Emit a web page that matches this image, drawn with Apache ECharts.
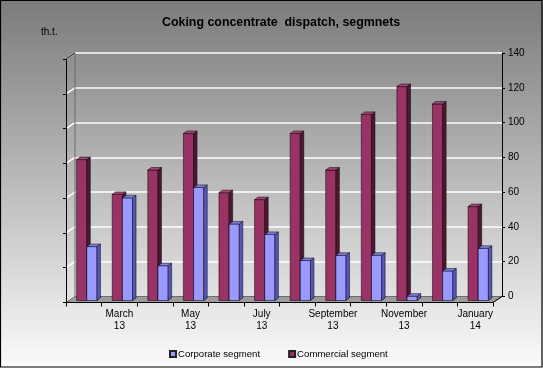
<!DOCTYPE html>
<html><head><meta charset="utf-8">
<script src="https://cdn.jsdelivr.net/npm/echarts@6/dist/echarts.min.js"></script>
<style>html,body{margin:0;padding:0;}#c{width:543px;height:368px;}</style>
</head><body><div id="c"></div>
<script>
const categories = ['February\n13','March\n13','April\n13','May\n13','June\n13','July\n13','August\n13','September\n13','October\n13','November\n13','December\n13','January\n14'];
const commercial = [81, 61, 75, 96, 62, 58, 96, 75, 107, 123, 113, 54];
const corporate = [31, 59, 20, 65, 44, 38, 23, 26, 26, 2.5, 17, 30];
const yTicks = [0, 20, 40, 60, 80, 100, 120, 140];

const FONT = 'Liberation Sans, Arial, sans-serif';
const DX = 3.5, DY = -2.5;

function barRenderer(slot, front, side, topc) {
  return function (params, api) {
    const i = api.value(0), v = api.value(1);
    const b = api.coord([i, 0]);
    const t = api.coord([i, v]);
    const cw = api.size([1, 0])[0];
    const bw = cw / 3.5;
    const x0 = b[0] - bw + slot * bw;
    const x1 = x0 + bw;
    const s = {stroke: '#000', lineWidth: 0.5};
    return {type: 'group', children: [
      {type: 'rect', shape: {x: x0, y: t[1], width: bw, height: b[1] - t[1]}, style: Object.assign({fill: front}, s)},
      {type: 'polygon', shape: {points: [[x1, t[1]], [x1 + DX, t[1] + DY], [x1 + DX, b[1] + DY], [x1, b[1]]]}, style: Object.assign({fill: side}, s)},
      {type: 'polygon', shape: {points: [[x0, t[1]], [x0 + DX, t[1] + DY], [x1 + DX, t[1] + DY], [x1, t[1]]]}, style: Object.assign({fill: topc}, s)}
    ]};
  };
}

const chart = echarts.init(document.getElementById('c'));
const option = {
  animation: false,
  backgroundColor: new echarts.graphic.LinearGradient(0, 0, 0, 1, [
    {offset: 0, color: '#7b7b7b'}, {offset: 1, color: '#fbfbfb'}
  ]),
  textStyle: {fontFamily: FONT},
  title: [
    {text: 'Coking concentrate  dispatch, segmnets', left: 157, top: 12,
     textStyle: {fontSize: 12.4, fontWeight: 'bold', color: '#000', fontFamily: FONT}},
    {text: 'th.t.', left: 36, top: 22, textStyle: {fontSize: 10, fontWeight: 'normal', color: '#000', fontFamily: FONT}}
  ],
  legend: {
    data: ['Corporate segment', 'Commercial segment'],
    left: 164, top: 344, icon: 'rect', itemWidth: 6, itemHeight: 6, itemGap: 28,
    textStyle: {fontSize: 9.6, color: '#000', fontFamily: FONT, padding: [0, 0, 0, -3]}
  },
  grid: [
    {left: 75, right: 41, top: 53, bottom: 71.5},
    {left: 66, right: 50, top: 59, bottom: 65.5},
    {left: 69, right: 47, top: 57, bottom: 67.5}
  ],
  xAxis: [
    {type: 'category', gridIndex: 0, data: categories, show: false},
    {type: 'category', gridIndex: 1, data: categories, boundaryGap: true,
     axisLine: {lineStyle: {color: '#000', width: 1}}, z: 4,
     axisTick: {show: true, length: 4, interval: 0, lineStyle: {color: '#000'}},
     axisLabel: {interval: function (idx) { return idx % 2 === 1; }, fontSize: 10, color: '#000', lineHeight: 12, margin: 6, fontFamily: FONT}},
    {type: 'category', gridIndex: 2, data: categories, show: false}
  ],
  yAxis: [
    {type: 'value', gridIndex: 0, position: 'right', min: 0, max: 140, interval: 20,
     axisLine: {show: true, lineStyle: {color: '#000'}},
     axisTick: {show: true, length: 3, lineStyle: {color: '#000'}},
     axisLabel: {fontSize: 10, color: '#000', margin: 6, fontFamily: FONT},
     splitLine: {show: true, lineStyle: {color: '#ffffff', width: 1.5}}},
    {type: 'value', gridIndex: 1, min: 0, max: 140, interval: 20, z: 4,
     axisLine: {show: true, lineStyle: {color: '#000'}},
     axisTick: {show: true, length: 3, lineStyle: {color: '#000'}},
     axisLabel: {show: false}, splitLine: {show: false}},
    {type: 'value', gridIndex: 2, min: 0, max: 140, interval: 20, show: false, splitLine: {show: false}}
  ],
  series: [
    {name: 'Commercial segment', type: 'custom', xAxisIndex: 2, yAxisIndex: 2, z: 6,
     itemStyle: {color: '#993366', borderColor: '#222', borderWidth: 0.5},
     renderItem: barRenderer(0, '#993366', '#4f1832', '#a8447a'),
     data: commercial.map((v, i) => [i, v])},
    {name: 'Corporate segment', type: 'custom', xAxisIndex: 2, yAxisIndex: 2, z: 7,
     itemStyle: {color: '#9999ff', borderColor: '#222', borderWidth: 0.5},
     renderItem: barRenderer(1, '#9999ff', '#5656b8', '#8080e6'),
     data: corporate.map((v, i) => [i, v])}
  ]
};
chart.setOption(option);

// decorations derived from the axes: left wall gridlines, floor, outer border
const g = [];
yTicks.forEach(function (t) {
  const back = chart.convertToPixel({xAxisIndex: 0, yAxisIndex: 0}, [0, t]);
  const front = chart.convertToPixel({xAxisIndex: 1, yAxisIndex: 1}, [0, t]);
  if (t > 0) {
    g.push({type: 'line', z: 2, shape: {x1: 66, y1: front[1], x2: 75, y2: back[1]},
      style: {stroke: '#ffffff', lineWidth: 1.5}});
  }
});
const b0 = chart.convertToPixel({xAxisIndex: 0, yAxisIndex: 0}, [0, 0])[1];
const f0 = chart.convertToPixel({xAxisIndex: 1, yAxisIndex: 1}, [0, 0])[1];
const bTop = chart.convertToPixel({xAxisIndex: 0, yAxisIndex: 0}, [0, 140])[1];
const fTop = chart.convertToPixel({xAxisIndex: 1, yAxisIndex: 1}, [0, 140])[1];
g.push({type: 'polygon', z: 1, shape: {points: [[75, b0], [502, b0], [493, f0], [66, f0]]},
  style: {fill: '#9c9c9c', stroke: '#555', lineWidth: 0.8}});
g.push({type: 'line', z: 3, shape: {x1: 66, y1: fTop, x2: 75, y2: bTop}, style: {stroke: '#000', lineWidth: 1}});
g.push({type: 'line', z: 3, shape: {x1: 75, y1: bTop, x2: 75, y2: b0}, style: {stroke: '#6a6a6a', lineWidth: 1}});
g.push({type: 'line', z: 3, shape: {x1: 493, y1: f0, x2: 502, y2: b0}, style: {stroke: '#000', lineWidth: 1}});
g.push({type: 'rect', z: 10, shape: {x: 0.5, y: 0.5, width: 541.5, height: 366.5}, style: {fill: 'none', stroke: '#000', lineWidth: 1.2}});
chart.setOption({graphic: g});
</script>
</body></html>
